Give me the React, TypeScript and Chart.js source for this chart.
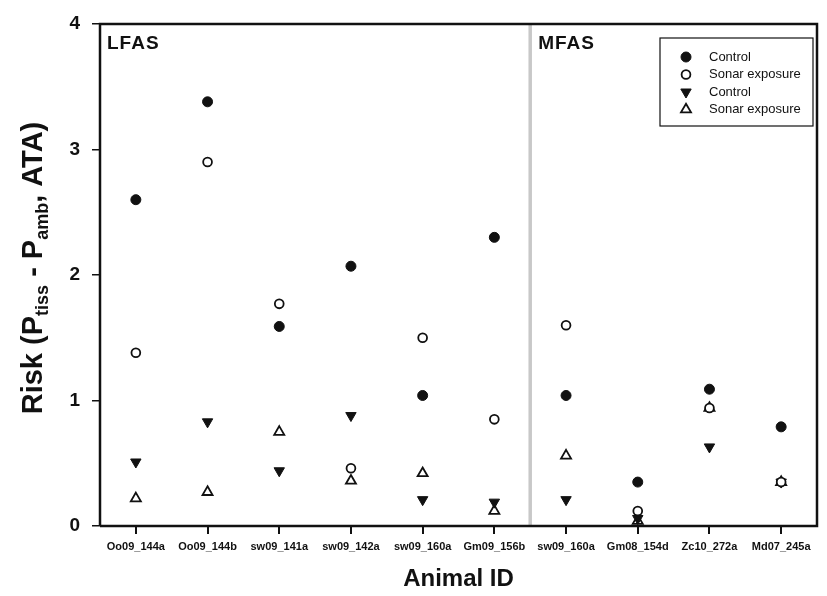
import { useEffect, useRef } from "react"
import { Chart, registerables, type Plugin } from "chart.js"

Chart.register(...registerables)

const animalIds = [
  "Oo09_144a",
  "Oo09_144b",
  "sw09_141a",
  "sw09_142a",
  "sw09_160a",
  "Gm09_156b",
  "sw09_160a",
  "Gm08_154d",
  "Zc10_272a",
  "Md07_245a",
]

// circles
const circleControl = [2.6, 3.38, 1.59, 2.07, 1.04, 2.3, 1.04, 0.35, 1.09, 0.79]
const circleSonar = [1.38, 2.9, 1.77, 0.46, 1.5, 0.85, 1.6, 0.12, 0.94, 0.35]
// triangles
const triangleControl = [0.51, 0.83, 0.44, 0.88, 0.21, 0.19, 0.21, 0.06, 0.63, 0.35]
const triangleSonar = [0.22, 0.27, 0.75, 0.36, 0.42, 0.12, 0.56, 0.04, 0.94, 0.35]

const yTicks = [0, 1, 2, 3, 4]
const panelLabels = ["LFAS", "MFAS"]
const splitIndex = 6 // first MFAS category

const FONT = "'Liberation Sans', Arial, sans-serif"

// box, separator, panel labels, y title with subscripts, legend
const decorPlugin: Plugin<"line"> = {
  id: "decor",
  afterDraw(chart) {
    const { ctx, chartArea } = chart
    const x = chart.scales.x
    const { left, right, top, bottom } = chartArea

    ctx.save()

    // grey separator between LFAS and MFAS
    const sepX = (x.getPixelForValue(splitIndex - 1) + x.getPixelForValue(splitIndex)) / 2
    ctx.strokeStyle = "#c8c8c8"
    ctx.lineWidth = 3.5
    ctx.beginPath()
    ctx.moveTo(sepX, top + 1)
    ctx.lineTo(sepX, bottom + 1)
    ctx.stroke()

    // frame
    ctx.strokeStyle = "#111"
    ctx.lineWidth = 2.5
    ctx.beginPath()
    ctx.moveTo(left, bottom)
    ctx.lineTo(left, top)
    ctx.lineTo(right, top)
    ctx.lineTo(right, bottom)
    ctx.lineTo(left, bottom)
    ctx.stroke()

    // panel labels
    ctx.fillStyle = "#111"
    ctx.font = `bold 19px ${FONT}`
    ;(ctx as any).letterSpacing = "1px"
    ctx.textAlign = "left"
    ctx.textBaseline = "middle"
    ctx.fillText(panelLabels[0], left + 7, top + 20)
    ctx.fillText(panelLabels[1], sepX + 8, top + 20)
    ;(ctx as any).letterSpacing = "0px"

    // y axis title, rotated, with subscripts
    const parts: [string, boolean][] = [
      ["Risk (P", false],
      ["tiss", true],
      [" - P", false],
      ["amb", true],
      [", ATA)", false],
    ]
    const big = `bold 29px ${FONT}`
    const small = `bold 18px ${FONT}`
    let total = 0
    for (const [t, sub] of parts) {
      ctx.font = sub ? small : big
      total += ctx.measureText(t).width
    }
    ctx.translate(32, 268)
    ctx.rotate(-Math.PI / 2)
    let cx = -total / 2
    ctx.textBaseline = "alphabetic"
    for (const [t, sub] of parts) {
      ctx.font = sub ? small : big
      ctx.fillText(t, cx, sub ? 16 : 10)
      cx += ctx.measureText(t).width
    }
    ctx.setTransform(1, 0, 0, 1, 0, 0)
    ctx.scale(chart.currentDevicePixelRatio, chart.currentDevicePixelRatio)

    // legend box
    const lx = 660
    const ly = 38
    ctx.strokeStyle = "#111"
    ctx.lineWidth = 1.2
    ctx.strokeRect(lx, ly, 153, 88)
    ctx.font = `13px ${FONT}`
    ctx.textBaseline = "middle"
    chart.data.datasets.forEach((ds, i) => {
      const py = ly + 19 + i * 17.5
      const px = lx + 26
      ctx.fillStyle = "#111"
      ctx.fillText(ds.label || "", lx + 49, py)
      ctx.beginPath()
      const style = (ds as any).pointStyle
      if (style === "circle") {
        ctx.arc(px, py, (ds as any).pointRadius, 0, Math.PI * 2)
      } else {
        const r = (ds as any).pointRadius
        const dir = (ds as any).pointRotation === 180 ? -1 : 1
        ctx.moveTo(px, py - dir * r)
        ctx.lineTo(px + r * 0.866, py + dir * r * 0.5)
        ctx.lineTo(px - r * 0.866, py + dir * r * 0.5)
        ctx.closePath()
      }
      ctx.fillStyle = ds.backgroundColor as string
      ctx.fill()
      ctx.lineWidth = (ds as any).pointBorderWidth
      ctx.strokeStyle = "#111"
      ctx.stroke()
    })

    ctx.restore()
  },
}

export default function App() {
  const canvasRef = useRef<HTMLCanvasElement>(null)
  const chartRef = useRef<Chart<"line"> | null>(null)

  useEffect(() => {
    if (!canvasRef.current) return
    if (chartRef.current) chartRef.current.destroy()

    const point = (label: string, data: number[], style: string, filled: boolean, rotation = 0, r = 4.6) => ({
      label,
      data,
      showLine: false,
      pointStyle: style,
      pointRotation: rotation,
      pointRadius: r,
      pointHoverRadius: r,
      backgroundColor: filled ? "#111" : "#fff",
      borderColor: "#111",
      pointBorderWidth: filled ? 1 : 1.8,
      pointBorderColor: "#111",
      pointBackgroundColor: filled ? "#111" : "#fff",
    })

    chartRef.current = new Chart(canvasRef.current, {
      type: "line",
      data: {
        labels: animalIds,
        datasets: [
          point("Control", circleControl, "circle", true, 0, 5),
          point("Sonar exposure", circleSonar, "circle", false, 0, 4.4),
          point("Control", triangleControl, "triangle", true, 180, 6),
          point("Sonar exposure", triangleSonar, "triangle", false, 0, 5.8),
        ] as any,
      },
      options: {
        animation: false,
        responsive: false,
        devicePixelRatio: 1,
        layout: { padding: { left: 0, right: 10, top: 24, bottom: 0 } },
        plugins: {
          legend: { display: false },
          tooltip: { enabled: false },
        },
        scales: {
          x: {
            type: "category",
            offset: true,
            afterFit: (s) => {
              s.height = 70
            },
            border: { display: false },
            grid: {
              display: true,
              offset: false,
              drawOnChartArea: false,
              drawTicks: true,
              tickLength: 8,
              color: "#111",
              lineWidth: 2,
            },
            ticks: {
              color: "#111",
              padding: 6,
              maxRotation: 0,
              autoSkip: false,
              font: { family: FONT, size: 11, weight: "bold" },
            },
            title: {
              display: true,
              text: "Animal ID",
              color: "#111",
              padding: { top: 0, bottom: 2 },
              font: { family: FONT, size: 24, weight: "bold" },
            },
          },
          y: {
            min: 0,
            max: 4,
            afterFit: (s) => {
              s.width = 100
            },
            afterBuildTicks: (s) => {
              s.ticks = yTicks.map((v) => ({ value: v }))
            },
            border: { display: false },
            grid: {
              display: true,
              drawOnChartArea: false,
              drawTicks: true,
              tickLength: 8,
              color: "#111",
              lineWidth: 1.5,
            },
            ticks: {
              color: "#111",
              padding: 12,
              font: { family: FONT, size: 19, weight: "bold" },
            },
          },
        },
      },
      plugins: [decorPlugin],
    })

    return () => {
      if (chartRef.current) {
        chartRef.current.destroy()
        chartRef.current = null
      }
    }
  }, [])

  return (
    <div style={{ position: "fixed", left: 0, top: 0, width: 827, height: 596, background: "#fff" }}>
      <canvas ref={canvasRef} width={827} height={596} />
    </div>
  )
}
